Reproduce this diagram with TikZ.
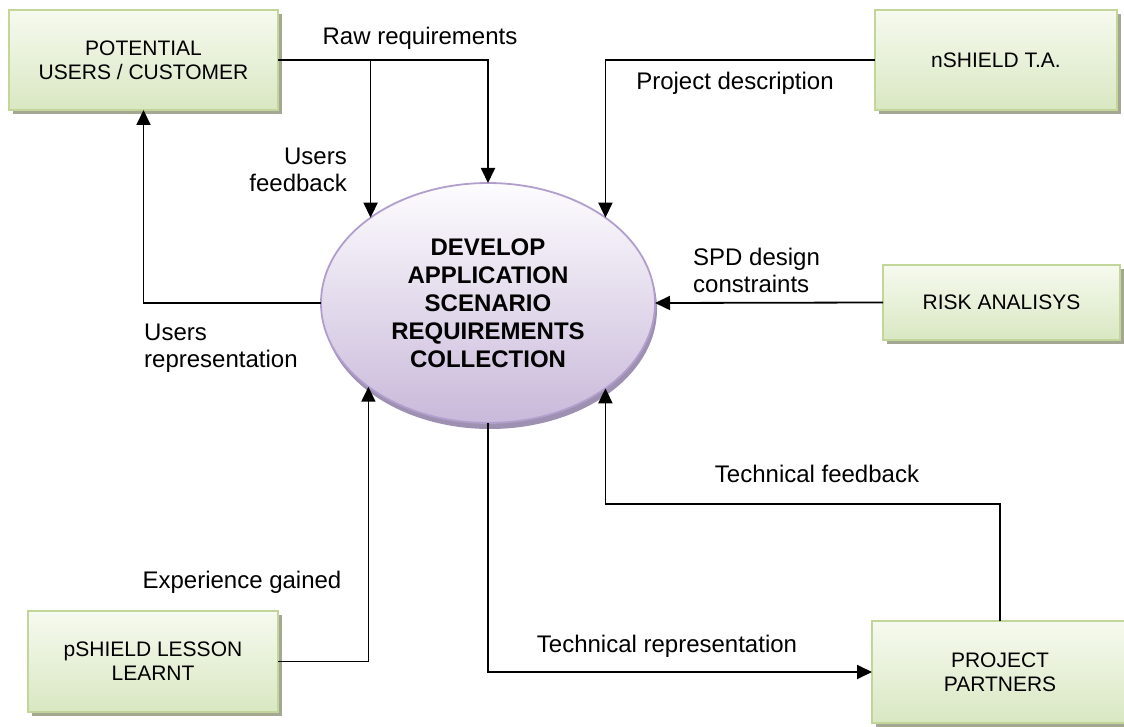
\documentclass[tikz,border=0pt]{standalone}
\usepackage{fontspec}
\setmainfont{Liberation Sans}
\usetikzlibrary{arrows.meta,shapes.geometric,shadows}
\definecolor{boxtop}{HTML}{F6FAEF}
\definecolor{boxbot}{HTML}{D9E7C2}
\definecolor{boxline}{HTML}{C2D69A}
\definecolor{boxshadow}{HTML}{A4A892}
\definecolor{elltop}{HTML}{FDFCFE}
\definecolor{ellbot}{HTML}{C9B9DA}
\definecolor{ellline}{HTML}{B19ECD}
\definecolor{ellshadow}{HTML}{9D90B0}
\tikzset{
  entity/.style={draw=boxline, line width=1.5pt, top color=boxtop, bottom color=boxbot,
    inner sep=0pt, outer sep=0pt, align=center, font={\fontsize{21}{24}\selectfont},
    drop shadow={shadow xshift=4pt, shadow yshift=-4pt, fill=boxshadow, opacity=1}},
  process/.style={ellipse, draw=ellline, line width=1.8pt, top color=elltop, bottom color=ellbot,
    inner sep=0pt, outer sep=0pt, align=center, font={\bfseries\fontsize{24}{28}\selectfont},
    minimum width=334pt, minimum height=240pt,
    drop shadow={shadow xshift=2pt, shadow yshift=-6pt, fill=ellshadow, opacity=1}},
  lbl/.style={inner sep=0pt, font={\fontsize{24}{27}\selectfont}},
  flow/.style={line width=1.8pt, -{Triangle[length=15pt,width=14pt]}}
}
\begin{document}
\begin{tikzpicture}[x=1pt,y=-1pt]
\useasboundingbox (0,0) rectangle (1124,727);
% nodes
\node[entity, minimum width=269pt, minimum height=100pt] (cust) at (143.5,60) {POTENTIAL\\USERS / CUSTOMER};
\node[entity, minimum width=242pt, minimum height=100pt] (nsh) at (996,60) {nSHIELD T.A.};
\node[entity, minimum width=237pt, minimum height=75pt] (risk) at (1001.5,302.5) {RISK ANALISYS};
\node[entity, minimum width=250pt, minimum height=101pt] (pss) at (153,661.5) {pSHIELD LESSON\\LEARNT};
\node[entity, minimum width=256pt, minimum height=102pt] (pp) at (1000,672) {PROJECT\\PARTNERS};
\node[process] (dev) at (488,303) {DEVELOP\\APPLICATION\\SCENARIO\\REQUIREMENTS\\COLLECTION};
\coordinate (tfturn) at (1000,504);
% connectors
\draw[flow] (cust.east) -| (dev.north);
\draw[flow] (cust.east) -| (dev.144.27);
\draw[flow] (nsh.west) -| (dev.36.2);
\draw[flow] (dev.west) -| (cust.south);
\draw[flow] (risk.west) -- (dev.east);
\draw[flow] (pp.north) -- (tfturn) -| (dev.-36.2);
\draw[flow] (dev.south) |- (pp.west);
\draw[flow] (pss.east) -| (dev.215.73);
% labels
\node[lbl] (lraw) at (420,38) {Raw requirements};
\node[lbl, align=right, anchor=east] (luf) at (347,170) {Users\\feedback};
\node[lbl] (lpd) at (735,83) {Project description};
\node[lbl, align=left, anchor=west] (lur) at (144,348) {Users\\representation};
\node[lbl, align=left, anchor=west] (lspd) at (693,270) {SPD design\\constraints};
\node[lbl] (ltf) at (817,474) {Technical feedback};
\node[lbl] (ltr) at (667,646) {Technical representation};
\node[lbl] (leg) at (242,582) {Experience gained};
\end{tikzpicture}
\end{document}
